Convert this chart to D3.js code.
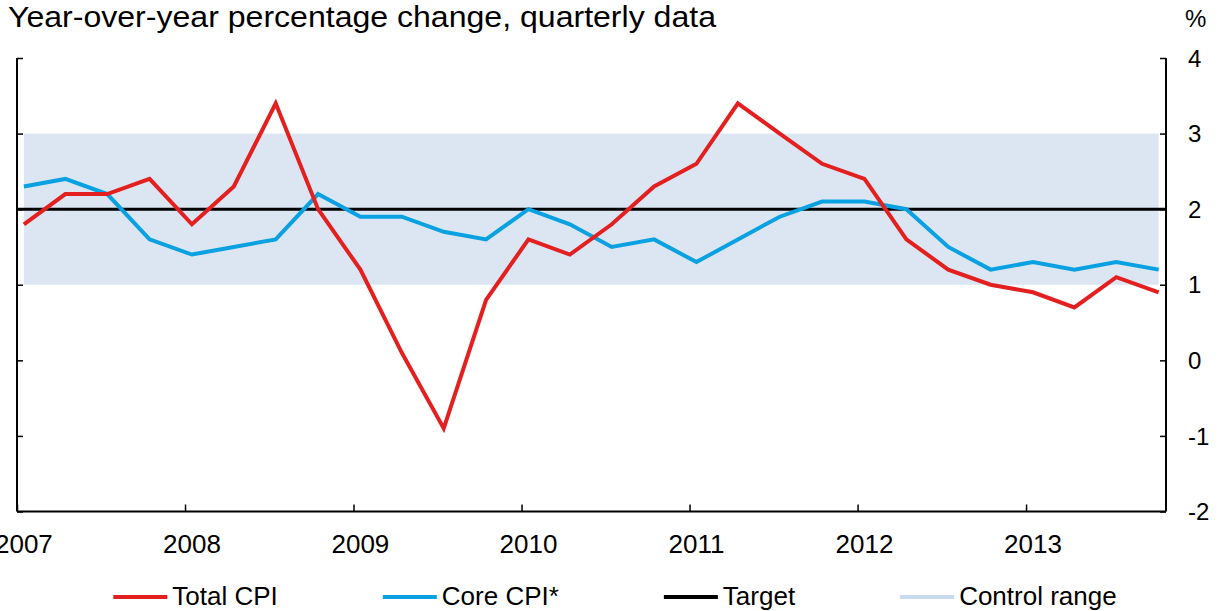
<!DOCTYPE html>
<html>
<head>
<meta charset="utf-8">
<script src="https://cdn.jsdelivr.net/npm/d3@7"></script>
<style>
  body { margin: 0; background: #fff; }
  svg { display: block; font-family: 'Liberation Sans', Arial, sans-serif; }
</style>
</head>
<body>
<div class="chart"></div>
<script>
// quarterly observations, 2007 Q1 - 2013 Q4
const quarters = [
  '2007Q1', '2007Q2', '2007Q3', '2007Q4',
  '2008Q1', '2008Q2', '2008Q3', '2008Q4',
  '2009Q1', '2009Q2', '2009Q3', '2009Q4',
  '2010Q1', '2010Q2', '2010Q3', '2010Q4',
  '2011Q1', '2011Q2', '2011Q3', '2011Q4',
  '2012Q1', '2012Q2', '2012Q3', '2012Q4',
  '2013Q1', '2013Q2', '2013Q3', '2013Q4'
];
const totalCPI = [
  1.8, 2.2, 2.2, 2.4, 1.8, 2.3, 3.4, 2.0,
  1.2, 0.1, -0.9, 0.8, 1.6, 1.4, 1.8, 2.3,
  2.6, 3.4, 3.0, 2.6, 2.4, 1.6, 1.2, 1.0,
  0.9, 0.7, 1.1, 0.9
];
const coreCPI = [
  2.3, 2.4, 2.2, 1.6, 1.4, 1.5, 1.6, 2.2,
  1.9, 1.9, 1.7, 1.6, 2.0, 1.8, 1.5, 1.6,
  1.3, 1.6, 1.9, 2.1, 2.1, 2.0, 1.5, 1.2,
  1.3, 1.2, 1.3, 1.2
];
const target = 2;
const controlRange = [1, 3];
const yearTicks = [2007, 2008, 2009, 2010, 2011, 2012, 2013];
const yTicks = [-2, -1, 0, 1, 2, 3, 4];
const legendItems = ['Total CPI', 'Core CPI*', 'Target', 'Control range'];

const colors = {
  total: '#e3201f',
  core: '#0aa1e2',
  target: '#000',
  band: '#dce6f2',
  bandKey: '#c9daee'
};

const width = 1223;
const height = 611;
const plotLeft = 17, plotRight = 1166, plotTop = 58, plotBottom = 511.5;

// quarter -> date of first observation month
const toDate = q => new Date(+q.slice(0, 4), (+q.slice(5) - 1) * 3, 16);
const dates = quarters.map(toDate);

const x = d3.scaleTime()
  .domain([new Date(2007, 0, 1), new Date(2013, 10, 1)])
  .range([plotLeft, plotRight]);

const y = d3.scaleLinear()
  .domain([-2, 4])
  .range([plotBottom, plotTop]);

const svg = d3.select('.chart')
  .append('svg')
  .attr('width', width)
  .attr('height', height);

// control range band, spans the observed quarters
svg.append('rect')
  .attr('x', x(dates[0]))
  .attr('y', y(controlRange[1]))
  .attr('width', x(dates[dates.length - 1]) - x(dates[0]))
  .attr('height', y(controlRange[0]) - y(controlRange[1]))
  .attr('fill', colors.band);

// target line
svg.append('line')
  .attr('x1', plotLeft)
  .attr('x2', plotRight)
  .attr('y1', y(target))
  .attr('y2', y(target))
  .attr('stroke', colors.target)
  .attr('stroke-width', 3);

const line = d3.line()
  .x((d, i) => x(dates[i]))
  .y(d => y(d));

svg.append('path')
  .datum(coreCPI)
  .attr('d', line)
  .attr('fill', 'none')
  .attr('stroke', colors.core)
  .attr('stroke-width', 4)
  .attr('stroke-linejoin', 'miter');

svg.append('path')
  .datum(totalCPI)
  .attr('d', line)
  .attr('fill', 'none')
  .attr('stroke', colors.total)
  .attr('stroke-width', 4)
  .attr('stroke-linejoin', 'miter');

// axes
const xAxis = d3.axisBottom(x)
  .tickValues(yearTicks.map(yr => new Date(yr, 0, 1)))
  .tickSize(-7)
  .tickFormat('');

const xAxisGroup = svg.append('g')
  .attr('transform', 'translate(0,' + plotBottom + ')')
  .call(xAxis);

const yLeft = svg.append('g')
  .attr('transform', 'translate(' + plotLeft + ',0)')
  .call(d3.axisRight(y).tickValues(yTicks).tickSize(6).tickFormat(''));

const yRight = svg.append('g')
  .attr('transform', 'translate(' + plotRight + ',0)')
  .call(d3.axisLeft(y).tickValues(yTicks).tickSize(6).tickFormat(''));

[xAxisGroup, yLeft, yRight].forEach(g => {
  g.select('.domain').attr('stroke', '#000').attr('stroke-width', 2);
  g.selectAll('.tick line').attr('stroke', '#000').attr('stroke-width', 1.5);
});
xAxisGroup.select('.domain').attr('d', 'M' + plotLeft + ',0H' + plotRight);
yLeft.select('.domain').attr('d', 'M0,' + plotBottom + 'V' + plotTop);
yRight.select('.domain').attr('d', 'M0,' + plotBottom + 'V' + plotTop);

// year labels sit under each year's first observation
svg.append('g')
  .selectAll('text')
  .data(yearTicks)
  .enter()
  .append('text')
  .attr('x', yr => x(toDate(yr + 'Q1')))
  .attr('y', 553)
  .attr('text-anchor', 'middle')
  .attr('font-size', '26px')
  .attr('fill', '#000')
  .text(yr => yr);

svg.append('g')
  .selectAll('text')
  .data(yTicks)
  .enter()
  .append('text')
  .attr('x', plotRight + 22)
  .attr('y', v => y(v))
  .attr('dy', '0.36em')
  .attr('font-size', '24px')
  .attr('fill', '#000')
  .text(v => v);

svg.append('text')
  .attr('x', 1185)
  .attr('y', 27)
  .attr('font-size', '24px')
  .text('%');

// the title in the original is set wide, stretch it to the same run
svg.append('text')
  .attr('x', 8)
  .attr('y', 27)
  .attr('font-size', '29px')
  .attr('textLength', 708)
  .attr('lengthAdjust', 'spacingAndGlyphs')
  .attr('fill', '#000')
  .text('Year-over-year percentage change, quarterly data');

// legend, laid out from measured text widths and centred
const keyColors = [colors.total, colors.core, colors.target, colors.bandKey];
const legend = svg.append('g');
const items = legend.selectAll('g')
  .data(legendItems)
  .enter()
  .append('g');

items.append('line')
  .attr('x1', 0)
  .attr('x2', 54)
  .attr('y1', 597)
  .attr('y2', 597)
  .attr('stroke', (d, i) => keyColors[i])
  .attr('stroke-width', 4);

items.append('text')
  .attr('x', 59)
  .attr('y', 605)
  .attr('font-size', '26px')
  .attr('fill', '#000')
  .text(d => d);

let cursor = 0;
items.each(function () {
  const w = this.querySelector('text').getComputedTextLength();
  d3.select(this).attr('data-x', cursor);
  cursor += 59 + w + 105;
});
const legendWidth = cursor - 105;
const legendStart = 615 - legendWidth / 2;
items.attr('transform', function () {
  return 'translate(' + (legendStart + +this.getAttribute('data-x')) + ',0)';
});
</script>
</body>
</html>
